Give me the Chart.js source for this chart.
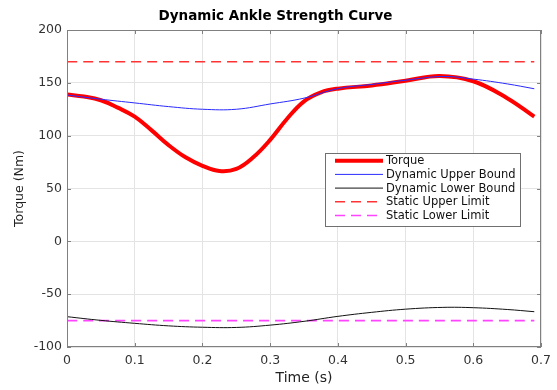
<!DOCTYPE html>
<html><head><meta charset="utf-8">
<script src="https://cdn.jsdelivr.net/npm/chart.js@4/dist/chart.umd.min.js"></script>
<style>html,body{margin:0;padding:0;background:#fff;} #wrap{position:relative;width:557px;height:390px;}</style>
</head><body><div id="wrap"><canvas id="c" width="557" height="390"></canvas></div>
<script>
const titleText = 'Dynamic Ankle Strength Curve';
const xTitle = 'Time (s)';
const yTitle = 'Torque (Nm)';
const xTicks = [0, 0.1, 0.2, 0.3, 0.4, 0.5, 0.6, 0.7];
const yTicks = [-100, -50, 0, 50, 100, 150, 200];
const torqueTime = [0, 0.025, 0.05, 0.075, 0.1, 0.125, 0.15, 0.175, 0.2, 0.225, 0.25, 0.275, 0.3, 0.325, 0.35, 0.375, 0.4, 0.45, 0.5, 0.55, 0.6, 0.65, 0.69];
const torque     = [139, 137, 133.5, 126.5, 118, 105, 91, 79.5, 71.5, 66.5, 68.5, 79.5, 96, 116, 132.5, 141, 144.5, 147.5, 152, 156.5, 151.5, 135.5, 118];
const boundTime  = [0, 0.05, 0.1, 0.15, 0.2, 0.25, 0.3, 0.35, 0.4, 0.45, 0.5, 0.555, 0.6, 0.65, 0.69];
const upperBound = [138.5, 134.5, 131, 127.5, 125, 125, 130, 135.5, 144.5, 148.5, 152.5, 156, 153.5, 149, 144.4];
const lowerBound = [-71.3, -74.8, -77.6, -80, -81.3, -81.5, -79.3, -75.7, -71, -67.2, -64.2, -62.5, -62.8, -64.5, -66.6];
const limitTime  = [0, 0.69];
const staticUpper = [170, 170];
const staticLower = [-75, -75];
const seriesNames = ['Torque', 'Dynamic Upper Bound', 'Dynamic Lower Bound', 'Static Upper Limit', 'Static Lower Limit'];

const pts = (xs, ys) => xs.map((x, i) => ({x: x, y: ys[i]}));

Chart.defaults.font.family = "'DejaVu Sans', sans-serif";
Chart.defaults.color = '#333';

const frame = {
  id: 'frame',
  afterDatasetsDraw(chart) {
    const {ctx, chartArea: a, scales: {x, y}} = chart;
    ctx.save();
    ctx.strokeStyle = '#808080';
    ctx.lineWidth = 1;
    ctx.strokeRect(Math.round(a.left) + 0.5, Math.round(a.top) + 0.5, Math.round(a.right - a.left) - 1, Math.round(a.bottom - a.top) - 1);
    ctx.beginPath();
    xTicks.forEach(v => {
      const px = Math.round(x.getPixelForValue(v)) + 0.5;
      ctx.moveTo(px, a.bottom); ctx.lineTo(px, a.bottom - 4);
      ctx.moveTo(px, a.top); ctx.lineTo(px, a.top + 4);
    });
    yTicks.forEach(v => {
      const py = Math.round(y.getPixelForValue(v)) + 0.5;
      ctx.moveTo(a.left, py); ctx.lineTo(a.left + 4, py);
      ctx.moveTo(a.right, py); ctx.lineTo(a.right - 4, py);
    });
    ctx.stroke();
    ctx.restore();
  }
};

const boxLegend = {
  id: 'boxLegend',
  afterDraw(chart) {
    const {ctx} = chart;
    const bx = 325.5, by = 153.5, bw = 195, bh = 73;
    ctx.save();
    ctx.fillStyle = '#fff';
    ctx.fillRect(bx, by, bw, bh);
    ctx.strokeStyle = '#707070';
    ctx.lineWidth = 1;
    ctx.strokeRect(bx, by, bw, bh);
    ctx.font = "11.5px 'DejaVu Sans'";
    ctx.textBaseline = 'middle';
    ctx.fillStyle = '#111';
    chart.data.datasets.forEach((ds, i) => {
      const ry = 160.7 + i * 13.7;
      ctx.beginPath();
      ctx.strokeStyle = ds.borderColor;
      ctx.lineWidth = ds.borderWidth;
      ctx.setLineDash(ds.borderDash || []);
      ctx.moveTo(335, ry); ctx.lineTo(383, ry);
      ctx.stroke();
      ctx.setLineDash([]);
      ctx.fillText(ds.label, 386, ry + 0.5);
    });
    ctx.restore();
  }
};

new Chart(document.getElementById('c'), {
  type: 'line',
  data: {
    datasets: [
      {label: seriesNames[0], data: pts(torqueTime, torque), borderColor: '#ff0000', borderWidth: 4, order: 1},
      {label: seriesNames[1], data: pts(boundTime, upperBound), borderColor: '#2a2aff', borderWidth: 1, order: 0},
      {label: seriesNames[2], data: pts(boundTime, lowerBound), borderColor: '#111111', borderWidth: 1, order: 0},
      {label: seriesNames[3], data: pts(limitTime, staticUpper), borderColor: '#ff3333', borderWidth: 1.5, borderDash: [10, 6], order: 0},
      {label: seriesNames[4], data: pts(limitTime, staticLower), borderColor: '#ff44ff', borderWidth: 1.6, borderDash: [10, 6], order: 0}
    ]
  },
  options: {
    responsive: false,
    animation: false,
    devicePixelRatio: 1,
    layout: {padding: {left: 0, right: 6, top: 0, bottom: 0}},
    elements: {point: {radius: 0}, line: {tension: 0.4, fill: false}},
    plugins: {
      legend: {display: false},
      tooltip: {enabled: false},
      title: {display: true, text: titleText, color: '#000', font: {size: 13.5, weight: 'bold'}, padding: {top: 8.6, bottom: 5.2}}
    },
    scales: {
      x: {
        type: 'linear', min: 0, max: 0.7,
        afterBuildTicks: s => { s.ticks = xTicks.map(v => ({value: v})); },
        afterFit: s => { s.height = 43; },
        grid: {color: '#e4e4e4', drawTicks: false},
        border: {display: false},
        ticks: {font: {size: 12.5}, padding: 6, maxRotation: 0, color: '#333',
                callback: v => String(Math.round(v * 10) / 10)},
        title: {display: true, text: xTitle, font: {size: 14}, color: '#222', padding: {top: 0, bottom: 3.6}}
      },
      y: {
        type: 'linear', min: -100, max: 200,
        afterBuildTicks: s => { s.ticks = yTicks.map(v => ({value: v})); },
        afterFit: s => { s.width = 67; },
        grid: {color: '#e4e4e4', drawTicks: false},
        border: {display: false},
        ticks: {font: {size: 12.5}, padding: 5, color: '#333'},
        title: {display: true, text: yTitle, font: {size: 12.5}, color: '#222', padding: {top: 12, bottom: 0}}
      }
    }
  },
  plugins: [frame, boxLegend]
});
</script></body></html>
